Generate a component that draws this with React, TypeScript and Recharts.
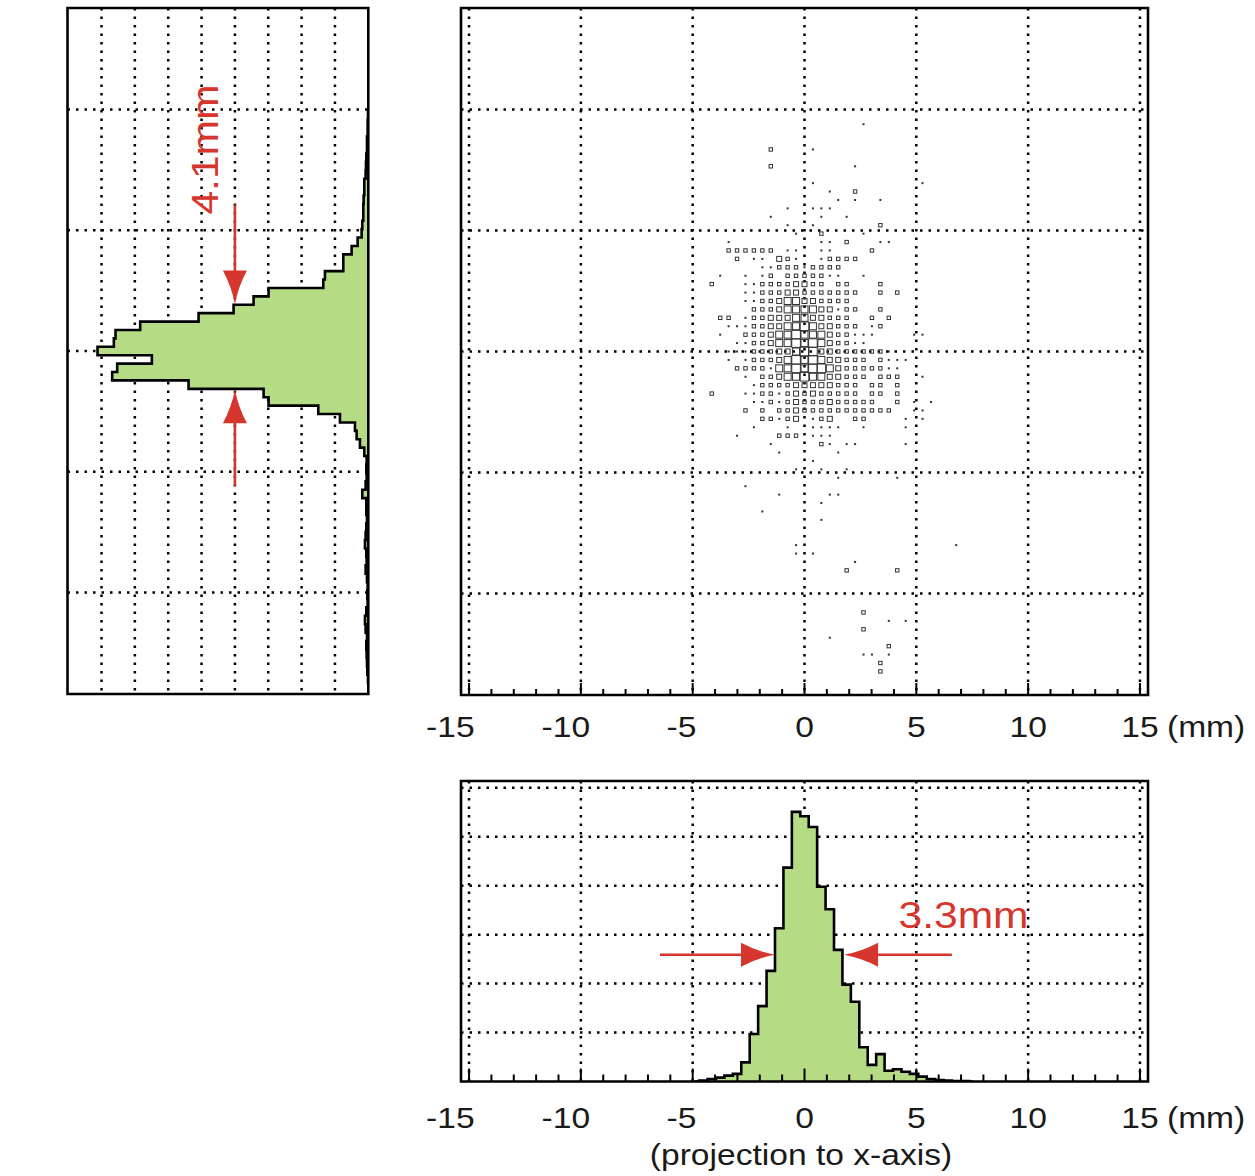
import React from "react";
import {
  ScatterChart,
  Scatter,
  ComposedChart,
  Area,
  XAxis,
  YAxis,
  CartesianGrid,
  ReferenceArea,
  ReferenceLine,
  ReferenceDot,
} from "recharts";

// bin pitch of the 2D histogram (projections use the same bins)
const DX = 0.377; // mm
const DY = 0.348; // y units

// box levels 0..5, rows j = 12 .. -12, columns k = -11 .. 15
const boxRowTop = 12;
const boxColFirst = -11;
const boxRows = [
  "002222220110011000020000000",
  "000201103210012222000000000",
  "000000112221222200000000000",
  "010010120222221100100000000",
  "200011222233220220002000000",
  "000011222332222222002020000",
  "000011223443322220000000000",
  "000002223444433122002000000",
  "022012233344332220020200000",
  "001112233445433222012000000",
  "010022234454443221110000110",
  "000112234454543221100000000",
  "001112223345533222222100000", // j = 0
  "001012223454543322202111000",
  "000222214454554322222110000",
  "000010223445443322202220010",
  "000001222233333222022020000",
  "200011221232322222022020000",
  "000001121232223222220020101",
  "000020202232222222222200110",
  "000000221230123002200001010",
  "000001000100111100100001000",
  "000100002220111000000000000",
  "000000010000021011000001000",
  "000000001000000100000000000",
];

// isolated boxes outside the dense block: [k, j, level]
const boxOutliers: [number, number, number][] = [
  [7, 27, 1],
  [-4, 24, 2], [1, 24, 1],
  [-4, 22, 2], [6, 22, 1],
  [1, 20, 1], [14, 20, 1],
  [3, 19, 1], [6, 19, 2],
  [4, 18, 1], [6, 18, 1], [9, 18, 1],
  [-2, 17, 1], [1, 17, 1], [2, 17, 1], [3, 17, 1],
  [-4, 16, 1], [2, 16, 1], [5, 16, 1],
  [-2, 15, 1], [1, 15, 1], [9, 15, 2],
  [-1, 14, 1], [2, 14, 2], [7, 14, 1],
  [-9, 13, 1], [2, 13, 1], [3, 13, 1], [5, 13, 2], [9, 13, 1], [10, 13, 1],
  [1, -13, 1],
  [-1, -14, 1], [2, -14, 1], [5, -14, 1],
  [4, -15, 1], [11, -15, 1],
  [-7, -16, 1],
  [-3, -17, 1], [3, -17, 1], [4, -17, 1],
  [2, -18, 1],
  [-5, -19, 1],
  [2, -20, 1],
  [-1, -23, 1], [18, -23, 1],
  [-1, -24, 1], [1, -24, 1],
  [6, -25, 1],
  [5, -26, 2], [11, -26, 2],
  [7, -31, 2],
  [10, -32, 1], [12, -32, 1],
  [7, -33, 2],
  [3, -34, 1],
  [10, -35, 2],
  [7, -36, 1], [8, -36, 1], [10, -36, 1],
  [9, -37, 2],
  [9, -38, 2],
];

// projection to x-axis, bins k = -13 .. 20
const xProjFirstBin = -13;
const xProjCounts = [
  0, 0.02, 0.05, 0.08, 0.12, 0.155, 0.39, 0.97, 1.54, 2.26, 3.13, 4.37, 5.51,
  5.42, 5.2, 3.98, 3.52, 2.69, 1.98, 1.63, 0.7, 0.34, 0.56, 0.22, 0.25, 0.2,
  0.155, 0.1, 0.05, 0.03, 0.02, 0.01, 0.01, 0,
];

// projection to y-axis, bins j = 29 .. -40 (top to bottom)
const yProjFirstBin = 29;
const yProjCounts = [
  0, 0.01, 0.02, 0.02, 0.04, 0.04, 0.06, 0.07, 0.08, 0.12, 0.12, 0.14, 0.15,
  0.15, 0.18, 0.2, 0.32, 0.5, 0.75, 0.75, 1.3, 1.35, 2.99, 3.44, 4.04, 5.09,
  6.84, 7.58, 7.63, 8.12, 6.49, 7.53, 7.68, 5.39, 3.14, 2.99, 1.5, 0.85, 0.4,
  0.35, 0.25, 0.12, 0.05, 0.06, 0.05, 0.08, 0.18, 0.06, 0.06, 0.04, 0.06, 0.08,
  0.1, 0.06, 0.05, 0.08, 0.04, 0.02, 0.03, 0.02, 0.06, 0.1, 0.08, 0.04, 0.06,
  0.05, 0.04, 0.03, 0.01, 0,
];

// axes
const X_DOMAIN: [number, number] = [-15.36, 15.36];
const Y_DOMAIN: [number, number] = [-14.2, 14.2];
const XPROJ_DOMAIN: [number, number] = [0, 6.14];
const YPROJ_DOMAIN: [number, number] = [0, 9.02];
const xGridValues = [-15, -10, -5, 0, 5, 10, 15];
const yGridValues = [-10, -5, 0, 5, 10];
const xProjGridValues = [1, 2, 3, 4, 5, 6];
const yProjGridValues = [1, 2, 3, 4, 5, 6, 7, 8];

// annotations
const xWidthLabel = "3.3mm";
const yWidthLabel = "4.1mm";

const RED = "#d5362d";
const GREEN = "#b5dc84";
const FONT = "'Liberation Sans', Arial, Helvetica, sans-serif";

const range = (from: number, to: number, step: number) => {
  const out: number[] = [];
  for (let i = 0; from + i * step <= to + 1e-9; i++) out.push(+(from + i * step).toFixed(4));
  return out;
};
const isMult = (v: number, m: number) => Math.abs(v / m - Math.round(v / m)) < 1e-3;

const boxes: { x: number; y: number; n: number }[] = [];
boxRows.forEach((row, r) => {
  for (let c = 0; c < row.length; c++) {
    const n = +row[c];
    if (n) boxes.push({ x: (boxColFirst + c) * DX, y: (boxRowTop - r) * DY, n });
  }
});
boxOutliers.forEach(([k, j, n]) => boxes.push({ x: k * DX, y: j * DY, n }));

const xProj = xProjCounts.map((v, i) => ({ x: (xProjFirstBin + i) * DX, v }));
const yProj = yProjCounts.map((v, i) => ({ y: (yProjFirstBin - i) * DY, v }));

// step curve that steps along y (for the sideways histogram)
class StepYCurve {
  ctx: any;
  line = NaN;
  px = NaN;
  py = NaN;
  pt = 0;
  constructor(ctx: any) {
    this.ctx = ctx;
  }
  areaStart() {
    this.line = 0;
  }
  areaEnd() {
    this.line = NaN;
  }
  lineStart() {
    this.px = NaN;
    this.py = NaN;
    this.pt = 0;
  }
  lineEnd() {
    if (this.pt === 2) this.ctx.lineTo(this.px, this.py);
    if (this.line || (this.line !== 0 && this.pt === 1)) this.ctx.closePath();
    if (this.line >= 0) this.line = 1 - this.line;
  }
  point(x: number, y: number) {
    x = +x;
    y = +y;
    if (this.pt === 0) {
      this.pt = 1;
      if (this.line) this.ctx.lineTo(x, y);
      else this.ctx.moveTo(x, y);
    } else {
      this.pt = 2;
      const ym = (this.py + y) / 2;
      this.ctx.lineTo(this.px, ym);
      this.ctx.lineTo(x, ym);
    }
    this.px = x;
    this.py = y;
  }
}
const stepY = (ctx: any) => new StepYCurve(ctx);

const BOX_SIDE = [0, 2, 3.4, 5, 7, 8.6];
const BoxShape = (props: any) => {
  const { cx, cy, payload } = props;
  const s = BOX_SIDE[payload.n];
  if (payload.n === 1)
    return <rect x={cx - s / 2} y={cy - s / 2} width={s} height={s} fill="#333" />;
  return (
    <rect x={cx - s / 2} y={cy - s / 2} width={s} height={s} fill="none" stroke="#333" strokeWidth={1} />
  );
};

// bottom axis tick: mark pointing into the plot and a label below
const XTick = (props: any) => {
  const { x, y, payload, labelDy, minorLen, majorLen } = props;
  const v = payload.value;
  const major = isMult(v, 5);
  const shift = v < 0 ? -(7.5 + 0.75 * Math.abs(v)) : 0;
  return (
    <g>
      <line x1={x} y1={y} x2={x} y2={y - (major ? majorLen : minorLen)} stroke="#000" strokeWidth={2} />
      {major && (
        <text
          transform={`translate(${x + shift},${y + labelDy}) scale(1.12,1)`}
          textAnchor="middle"
          fontSize={30}
          fontFamily={FONT}
          fill="#1a1a1a">
          {v}
        </text>
      )}
      {v === 15 && (
        <text transform={`translate(${x + 27},${y + labelDy}) scale(1.12,1)`} fontSize={30} fontFamily={FONT} fill="#1a1a1a">
          (mm)
        </text>
      )}
    </g>
  );
};

// tick mark only, dir = 1 points right, -1 points left, "up" points up
const MarkTick = (props: any) => {
  const { x, y, payload, minorLen, majorLen, every, dir } = props;
  const len = isMult(payload.value, every) ? majorLen : minorLen;
  if (dir === "up") return <line x1={x} y1={y} x2={x} y2={y - len} stroke="#000" strokeWidth={1.4} />;
  return <line x1={x} y1={y} x2={x + dir * len} y2={y} stroke="#000" strokeWidth={2} />;
};

const Arrow = (props: any) => {
  const { x1, y1, x2, y2 } = props;
  const ang = Math.atan2(y2 - y1, x2 - x1);
  const L = 34;
  const bx = x2 - Math.cos(ang) * L * 0.8;
  const by = y2 - Math.sin(ang) * L * 0.8;
  return (
    <g>
      <line x1={x1} y1={y1} x2={bx} y2={by} stroke={RED} strokeWidth={2.6} />
      <path
        d={`M0,0 Q-17,-3 -${L},-12 L-${L},12 Q-17,3 0,0 Z`}
        transform={`translate(${x2},${y2}) rotate(${(ang * 180) / Math.PI})`}
        fill={RED}
      />
    </g>
  );
};

const gridStyle = { stroke: "#000", strokeWidth: 2.5, strokeDasharray: "2.5 6" };

export default function App() {
  return (
    <div style={{ position: "absolute", left: 0, top: 0, width: 1255, height: 1176, background: "#fff", fontFamily: FONT }}>
      {/* projection to y-axis */}
      <div style={{ position: "absolute", left: 0, top: 0 }}>
        <ComposedChart
          width={400}
          height={760}
          layout="vertical"
          data={yProj}
          margin={{ top: 8, left: 67.5, right: 31.7, bottom: 66 }}>
          <CartesianGrid {...gridStyle} verticalValues={yProjGridValues} horizontalValues={yGridValues} />
          <XAxis
            type="number"
            domain={YPROJ_DOMAIN}
            reversed
            allowDataOverflow
            height={0}
            ticks={range(0, 9, 0.2)}
            interval={0}
            axisLine={false}
            tickLine={false}
            tickSize={0}
            tickMargin={0}
            tick={(p: any) => <MarkTick {...p} minorLen={3.5} majorLen={5} every={1} dir="up" />}
          />
          <YAxis
            type="number"
            dataKey="y"
            domain={Y_DOMAIN}
            reversed
            allowDataOverflow
            width={0}
            ticks={range(-36, 36, 1).map((k) => (k * 5) / 13)}
            interval={0}
            axisLine={false}
            tickLine={false}
            tickSize={0}
            tickMargin={0}
            tick={(p: any) => <MarkTick {...p} minorLen={4} majorLen={8} every={5} dir={1} />}
            label={{
              content: ({ viewBox }: any) => (
                <text
                  transform={`translate(${viewBox.x - 27.5},${viewBox.y + viewBox.height / 2 + 9}) rotate(-90) scale(1.12,1)`}
                  textAnchor="middle"
                  fontSize={30}
                  fontFamily={FONT}
                  fill="#1a1a1a">
                  (projection to y-axis)
                </text>
              ),
            }}
          />
          <YAxis
            yAxisId="r"
            orientation="right"
            type="number"
            domain={Y_DOMAIN}
            reversed
            allowDataOverflow
            width={0}
            ticks={range(-36, 36, 1).map((k) => (k * 5) / 13)}
            interval={0}
            axisLine={false}
            tickLine={false}
            tickSize={0}
            tickMargin={0}
            tick={(p: any) => <MarkTick {...p} minorLen={4} majorLen={8} every={5} dir={-1} />}
          />
          <Area
            dataKey="v"
            type={stepY as any}
            fill={GREEN}
            fillOpacity={1}
            stroke="#000"
            strokeWidth={2.6}
            isAnimationActive={false}
          />
          <ReferenceLine segment={[{ x: 4.0, y: 6.06 }, { x: 4.0, y: 1.93 }]} shape={Arrow} />
          <ReferenceLine segment={[{ x: 4.0, y: -5.59 }, { x: 4.0, y: -1.58 }]} shape={Arrow} />
          <ReferenceDot
            x={4.51}
            y={8.34}
            r={1}
            shape={(p: any) => (
              <text
                transform={`translate(${p.cx},${p.cy}) rotate(-90) scale(1.15,1)`}
                textAnchor="middle"
                fontSize={37}
                fontFamily={FONT}
                fill={RED}>
                {yWidthLabel}
              </text>
            )}
          />
          <ReferenceArea
            x1={YPROJ_DOMAIN[0]}
            x2={YPROJ_DOMAIN[1]}
            y1={Y_DOMAIN[0]}
            y2={Y_DOMAIN[1]}
            fill="none"
            stroke="#000"
            strokeWidth={2.6}
          />
        </ComposedChart>
      </div>

      {/* 2D box histogram */}
      <div style={{ position: "absolute", left: 400, top: 0 }}>
        <ScatterChart width={855} height={770} margin={{ top: 8, left: 61, right: 107, bottom: 0 }}>
          <CartesianGrid {...gridStyle} verticalValues={xGridValues} horizontalValues={yGridValues} />
          <XAxis
            type="number"
            dataKey="x"
            domain={X_DOMAIN}
            allowDataOverflow
            height={75}
            ticks={range(-15, 15, 1)}
            interval={0}
            axisLine={false}
            tickLine={false}
            tickSize={0}
            tickMargin={0}
            tick={(p: any) => <XTick {...p} labelDy={42} minorLen={6} majorLen={12} />}
          />
          <YAxis
            type="number"
            dataKey="y"
            domain={Y_DOMAIN}
            allowDataOverflow
            width={0}
            ticks={range(-14, 14, 1)}
            interval={0}
            axisLine={false}
            tickLine={false}
            tickSize={0}
            tickMargin={0}
            tick={(p: any) => <MarkTick {...p} minorLen={5} majorLen={9} every={5} dir={1} />}
          />
          <Scatter data={boxes} shape={BoxShape} isAnimationActive={false} />
          <ReferenceArea
            x1={X_DOMAIN[0]}
            x2={X_DOMAIN[1]}
            y1={Y_DOMAIN[0]}
            y2={Y_DOMAIN[1]}
            fill="none"
            stroke="#000"
            strokeWidth={2.6}
          />
        </ScatterChart>
      </div>

      {/* projection to x-axis */}
      <div style={{ position: "absolute", left: 400, top: 770 }}>
        <ComposedChart width={855} height={406} data={xProj} margin={{ top: 11, left: 61, right: 107, bottom: 0 }}>
          <CartesianGrid {...gridStyle} verticalValues={xGridValues} horizontalValues={xProjGridValues} />
          <XAxis
            type="number"
            dataKey="x"
            domain={X_DOMAIN}
            allowDataOverflow
            height={94.5}
            ticks={range(-15, 15, 1)}
            interval={0}
            axisLine={false}
            tickLine={false}
            tickSize={0}
            tickMargin={0}
            tick={(p: any) => <XTick {...p} labelDy={46.5} minorLen={7} majorLen={13} />}
            label={{
              content: ({ viewBox }: any) => (
                <text
                  transform={`translate(${viewBox.x + viewBox.width / 2 - 3.5},${viewBox.y + 83.5}) scale(1.12,1)`}
                  textAnchor="middle"
                  fontSize={30}
                  fontFamily={FONT}
                  fill="#1a1a1a">
                  (projection to x-axis)
                </text>
              ),
            }}
          />
          <YAxis
            type="number"
            domain={XPROJ_DOMAIN}
            allowDataOverflow
            width={0}
            ticks={range(0, 36, 1).map((k) => k / 6)}
            interval={0}
            axisLine={false}
            tickLine={false}
            tickSize={0}
            tickMargin={0}
            tick={(p: any) => <MarkTick {...p} minorLen={5} majorLen={8} every={1} dir={1} />}
          />
          <Area
            dataKey="v"
            type="step"
            fill={GREEN}
            fillOpacity={1}
            stroke="#000"
            strokeWidth={2.6}
            isAnimationActive={false}
          />
          <ReferenceLine segment={[{ x: -6.46, y: 2.59 }, { x: -1.32, y: 2.59 }]} shape={Arrow} />
          <ReferenceLine segment={[{ x: 6.59, y: 2.59 }, { x: 1.77, y: 2.59 }]} shape={Arrow} />
          <ReferenceDot
            x={7.11}
            y={3.14}
            r={1}
            shape={(p: any) => (
              <text
                transform={`translate(${p.cx},${p.cy}) scale(1.15,1)`}
                textAnchor="middle"
                fontSize={37}
                fontFamily={FONT}
                fill={RED}>
                {xWidthLabel}
              </text>
            )}
          />
          <ReferenceArea
            x1={X_DOMAIN[0]}
            x2={X_DOMAIN[1]}
            y1={XPROJ_DOMAIN[0]}
            y2={XPROJ_DOMAIN[1]}
            fill="none"
            stroke="#000"
            strokeWidth={2.6}
          />
        </ComposedChart>
      </div>
    </div>
  );
}
